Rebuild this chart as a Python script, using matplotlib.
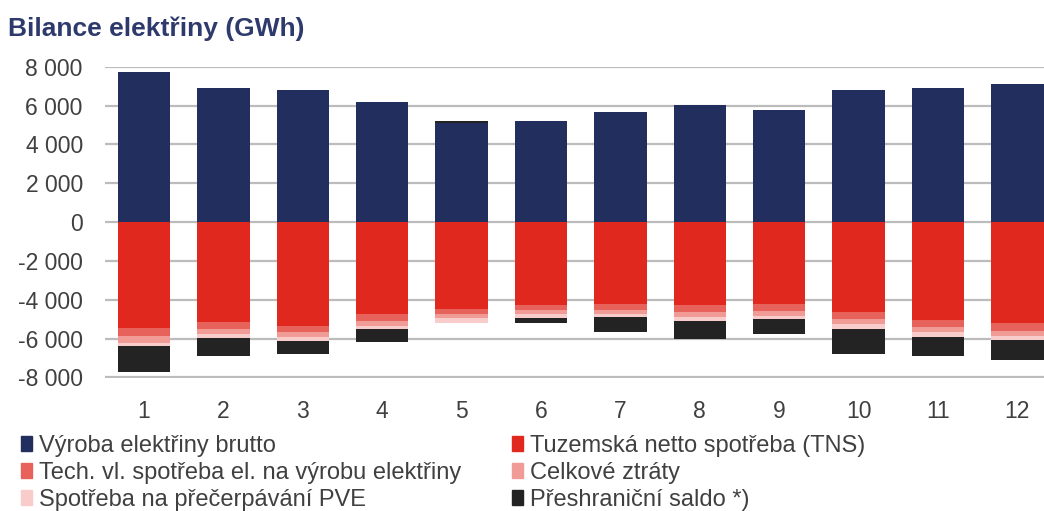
import numpy as np
import matplotlib.pyplot as plt
from matplotlib.patches import Patch

plt.rcParams['font.family'] = ['Liberation Sans', 'DejaVu Sans']

# Měsíční bilance elektřiny v GWh
mesice = [1, 2, 3, 4, 5, 6, 7, 8, 9, 10, 11, 12]
vyroba = [7730, 6900, 6780, 6160, 5090, 5210, 5650, 6010, 5785, 6780, 6880, 7090]
tns = [5430, 5120, 5340, 4710, 4490, 4270, 4230, 4280, 4230, 4630, 5040, 5220]
tech_spotreba = [430, 380, 320, 370, 250, 250, 290, 370, 340, 340, 360, 380]
ztraty = [340, 280, 270, 260, 220, 220, 220, 260, 260, 290, 260, 260]
pve = [200, 180, 180, 170, 260, 190, 170, 170, 170, 220, 230, 200]
# záporné = vývoz (kreslí se dolů), kladné = dovoz (nad výrobou)
saldo = [-1330, -940, -670, -650, 130, -280, -740, -930, -785, -1300, -990, -1030]

c_vyroba = '#222f5e'
c_tns = '#e0281e'
c_tech = '#e8625c'
c_ztraty = '#f19b97'
c_pve = '#f8cccb'
c_saldo = '#232323'
c_text = '#404040'

x = np.array(mesice)
w = 0.66

fig = plt.figure(figsize=(10.44, 5.11), dpi=100)
ax = fig.add_axes([105 / 1044, 1 - 377.5 / 511, 1 - 105 / 1044, (377.5 - 66.7) / 511])

ax.bar(x, vyroba, w, color=c_vyroba, zorder=3)

# spotřeba se skládá pod nulu
bottom = np.zeros(len(x))
for vals, col in [(tns, c_tns), (tech_spotreba, c_tech), (ztraty, c_ztraty), (pve, c_pve)]:
    v = -np.array(vals, dtype=float)
    ax.bar(x, v, w, bottom=bottom, color=col, zorder=3)
    bottom += v

s = np.array(saldo, dtype=float)
s_bottom = np.where(s < 0, bottom, np.array(vyroba, dtype=float))
ax.bar(x, s, w, bottom=s_bottom, color=c_saldo, zorder=3)

ax.set_ylim(-8000, 8000)
ax.set_xlim(0.51, 12.336)
ax.set_yticks(np.arange(-8000, 8001, 2000))
ax.set_yticklabels([f'{v:,}'.replace(',', ' ') for v in range(-8000, 8001, 2000)])
ax.set_xticks(x)
ax.set_xticklabels([str(m) for m in mesice])
ax.tick_params(length=0, labelsize=16.5, labelcolor=c_text, pad=16)
ax.grid(axis='y', color='#bcbcbc', lw=1.6, zorder=0)
ax.set_axisbelow(True)
for sp in ax.spines.values():
    sp.set_visible(False)

fig.text(8 / 1044, 1 - 29 / 511, 'Bilance elektřiny (GWh)', fontsize=19,
         fontweight='bold', color='#2e3a6c', va='center', ha='left')

leg_kw = dict(loc='upper left', frameon=False, fontsize=17, borderpad=0,
              borderaxespad=0, handlelength=0.45, handleheight=0.6,
              handletextpad=0.3, labelspacing=0.22, labelcolor=c_text)
fig.legend(handles=[Patch(color=c_vyroba, label='Výroba elektřiny brutto'),
                    Patch(color=c_tech, label='Tech. vl. spotřeba el. na výrobu elektřiny'),
                    Patch(color=c_pve, label='Spotřeba na přečerpávání PVE')],
           bbox_to_anchor=(21 / 1044, 1 - 434.5 / 511), **leg_kw)
fig.legend(handles=[Patch(color=c_tns, label='Tuzemská netto spotřeba (TNS)'),
                    Patch(color=c_ztraty, label='Celkové ztráty'),
                    Patch(color=c_saldo, label='Přeshraniční saldo *)')],
           bbox_to_anchor=(512 / 1044, 1 - 434.5 / 511), **leg_kw)

fig.savefig('out.png', dpi=100, facecolor='white')
